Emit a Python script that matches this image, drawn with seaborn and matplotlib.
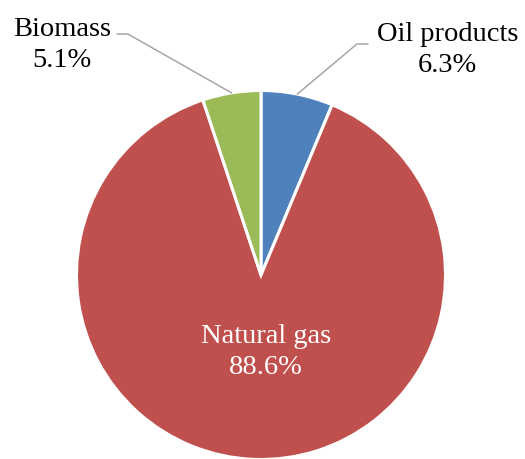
import numpy as np
import matplotlib
matplotlib.use("Agg")
import matplotlib.pyplot as plt
import seaborn as sns

# Energy mix shares (%)
sources = ["Oil products", "Natural gas", "Biomass"]
shares = [6.3, 88.6, 5.1]
colors = ["#4F81BD", "#C0504D", "#9BBB59"]

sns.set_theme(style="white")
plt.rcParams["font.family"] = ["Liberation Serif", "DejaVu Serif"]

W, H, DPI = 525, 459, 100
fig = plt.figure(figsize=(W / DPI, H / DPI), dpi=DPI)
ax = fig.add_axes([0, 0, 1, 1])

R = 184.5  # pie radius in pixels
cx, cy = 261, 275  # centre in pixels (from top-left)

wedges, _ = ax.pie(
    shares, colors=colors, startangle=90, counterclock=False, radius=1.0,
    wedgeprops=dict(edgecolor="white", linewidth=2.2), frame=True,
)
ax.set_xlim(-cx / R, (W - cx) / R)
ax.set_ylim(-(H - cy) / R, cy / R)
ax.set_aspect("auto")
ax.axis("off")

fs = 20.5
ls = 1.32
line_kw = dict(color="#A6A6A6", lw=1.1)

def mid_point(w):
    ang = np.deg2rad((w.theta1 + w.theta2) / 2)
    return np.cos(ang), np.sin(ang)

# Oil products: leader line to upper right label
px, py = mid_point(wedges[0])
ax.plot([px, 0.52, 0.58], [py, 1.252, 1.252], **line_kw)
ax.text(1.01, 1.22, f"{sources[0]}\n{shares[0]}%", ha="center", va="center",
        fontsize=fs, linespacing=ls, color="black")

# Biomass: leader line to upper left label
px, py = mid_point(wedges[2])
ax.plot([px, -0.721, -0.78], [py, 1.306, 1.306], **line_kw)
ax.text(-1.078, 1.245, f"{sources[2]}\n{shares[2]}%", ha="center", va="center",
        fontsize=fs, linespacing=ls, color="black")

# Natural gas: label inside the slice
ax.text(0.027, -0.415, f"{sources[1]}\n{shares[1]}%", ha="center", va="center",
        fontsize=fs, linespacing=ls, color="white")

fig.savefig("out.png", dpi=DPI, facecolor="white")
